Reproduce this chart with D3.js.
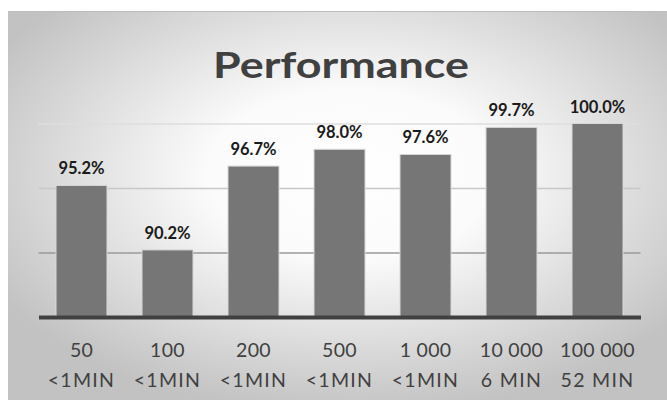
<!DOCTYPE html>
<html>
<head>
<meta charset="utf-8">
<script src="https://cdn.jsdelivr.net/npm/d3@7"></script>
<style>
  html, body { margin: 0; padding: 0; background: #ffffff; }
  svg { display: block; }
</style>
</head>
<body>
<svg id="chart" width="667" height="403"></svg>
<script>
// Data
const categories = ["50|<1MIN", "100|<1MIN", "200|<1MIN", "500|<1MIN", "1 000|<1MIN", "10 000|6 MIN", "100 000|52 MIN"];
const values = [95.2, 90.2, 96.7, 98.0, 97.6, 99.7, 100.0];
const yTicks = [90, 95, 100];
const yDomain = [85, 100];
const title = "Performance";

const svg = d3.select("#chart");

// Frame with radial gradient background
const defs = svg.append("defs");
const grad = defs.append("radialGradient")
  .attr("id", "bg")
  .attr("cx", 0.52).attr("cy", 0.42).attr("r", 0.62);
grad.append("stop").attr("offset", "0%").attr("stop-color", "#ffffff");
grad.append("stop").attr("offset", "35%").attr("stop-color", "#fbfbfb");
grad.append("stop").attr("offset", "100%").attr("stop-color", "#c2c2c2");

const frame = { x: 8, y: 11, w: 659, h: 389 };
svg.append("rect")
  .attr("x", frame.x).attr("y", frame.y)
  .attr("width", frame.w).attr("height", frame.h)
  .attr("fill", "url(#bg)");
svg.append("line")
  .attr("x1", frame.x).attr("x2", frame.x + frame.w)
  .attr("y1", frame.y + 0.5).attr("y2", frame.y + 0.5)
  .attr("stroke", "#bdbdbd").attr("stroke-width", 1);

// Title
svg.append("text")
  .attr("x", 341).attr("y", 77.5)
  .attr("text-anchor", "middle")
  .attr("font-family", "Lato, 'Open Sans', sans-serif")
  .attr("font-weight", 700)
  .attr("font-size", 37)
  .attr("fill", "#404040")
  .attr("textLength", 256)
  .attr("lengthAdjust", "spacingAndGlyphs")
  .text(title);

// Scales
const x = d3.scaleBand()
  .domain(categories)
  .range([38.5, 640.5])
  .paddingInner(0.407)
  .paddingOuter(0.2035);

const y = d3.scaleLinear()
  .domain(yDomain)
  .range([317, 123.5]);

// Gridlines
const gridColor = { 90: "#9a9a9a", 95: "#c8c8c8", 100: "#dedede" };
const yAxis = d3.axisLeft(y).tickValues(yTicks).tickSize(-(640.5 - 38.5)).tickFormat("");
const gy = svg.append("g")
  .attr("transform", "translate(38.5,0)")
  .call(yAxis);
gy.select(".domain").remove();
gy.selectAll(".tick line")
  .attr("stroke", d => gridColor[d])
  .attr("stroke-width", 1.5);

// Bars
svg.append("g").selectAll("rect")
  .data(values)
  .join("rect")
  .attr("x", (d, i) => x(categories[i]))
  .attr("y", d => y(d))
  .attr("width", x.bandwidth())
  .attr("height", d => y(yDomain[0]) - y(d))
  .attr("fill", "#767676")
  .attr("stroke", "#d8d8d8")
  .attr("stroke-width", 1);

// Value labels
svg.append("g").selectAll("text")
  .data(values)
  .join("text")
  .attr("x", (d, i) => x(categories[i]) + x.bandwidth() / 2)
  .attr("y", d => y(d) - 11)
  .attr("text-anchor", "middle")
  .attr("font-family", "Lato, 'Open Sans', sans-serif")
  .attr("font-weight", 700)
  .attr("font-size", 16.5)
  .attr("fill", "#1a1a1a")
  .text(d => d.toFixed(1) + "%");

// Baseline (category axis)
const xAxis = d3.axisBottom(x).tickSize(0).tickFormat("");
const gx = svg.append("g")
  .attr("transform", `translate(0,${y(yDomain[0])})`)
  .call(xAxis);
gx.select(".domain")
  .attr("stroke", "#404040")
  .attr("stroke-width", 4);

// Category labels (two lines)
const labels = svg.append("g").selectAll("text")
  .data(categories)
  .join("text")
  .attr("x", d => x(d) + x.bandwidth() / 2)
  .attr("text-anchor", "middle")
  .attr("font-family", "Lato, 'Open Sans', sans-serif")
  .attr("font-size", 19.5)
  .attr("fill", "#404040");
labels.append("tspan")
  .attr("x", d => x(d) + x.bandwidth() / 2)
  .attr("y", 356.5)
  .attr("letter-spacing", 0.3)
  .text(d => d.split("|")[0]);
labels.append("tspan")
  .attr("x", d => x(d) + x.bandwidth() / 2)
  .attr("y", 386.5)
  .attr("letter-spacing", 1.3)
  .text(d => d.split("|")[1]);
</script>
</body>
</html>
